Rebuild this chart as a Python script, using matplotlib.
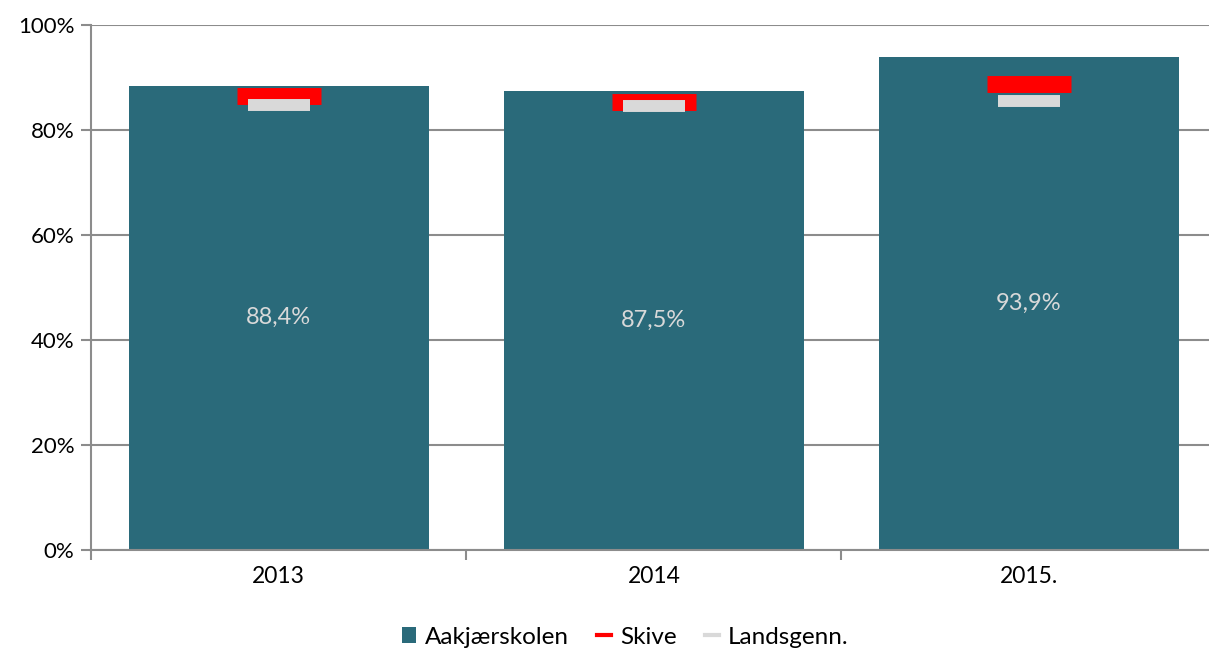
import matplotlib
matplotlib.use("Agg")
from matplotlib import pyplot as plt
from matplotlib.lines import Line2D
from matplotlib.patches import Patch
import numpy as np

plt.rcParams['font.family'] = ['Lato', 'DejaVu Sans']

years = ["2013", "2014", "2015."]
aakjaer = [88.4, 87.5, 93.9]
skive = [86.4, 85.4, 88.7]
landsgenn = [84.8, 84.6, 85.5]
value_labels = ["88,4%", "87,5%", "93,9%"]

bar_color = "#2a6a7a"
grid_color = "#8c8c8c"

fig = plt.figure(figsize=(12.09, 6.5), dpi=100)
ax = fig.add_axes([0.0753, 0.1546, 0.931, 0.8069])

x = np.arange(len(years))
ax.bar(x, aakjaer, width=0.8, color=bar_color, zorder=2)

ax.plot(x, skive, linestyle="none", marker="_", markersize=60, markeredgewidth=12.2,
        color="#ff0000", zorder=3)
ax.plot(x, landsgenn, linestyle="none", marker="_", markersize=44, markeredgewidth=8.6,
        color="#d9d9d9", zorder=4)

for xi, v, lab in zip(x, aakjaer, value_labels):
    ax.text(xi, v / 2, lab, ha="center", va="center", color="#d9d9d9", fontsize=17, zorder=5)

ax.set_xlim(-0.5, 2.5)
ax.set_ylim(0, 100)
ax.set_yticks(np.arange(0, 101, 20))
ax.set_yticklabels([f"{v}%" for v in range(0, 101, 20)], fontsize=16)
ax.yaxis.grid(True, color=grid_color, linewidth=1.5, zorder=0)
ax.set_axisbelow(True)

ax.set_xticks([-0.5, 0.5, 1.5, 2.5])
ax.set_xticklabels([])
ax.set_xticks(x, minor=True)
ax.set_xticklabels(years, minor=True, fontsize=16.5)
ax.tick_params(axis="x", which="minor", length=0, pad=12)
ax.tick_params(axis="x", which="major", length=7, color=grid_color, width=1.5)
ax.tick_params(axis="y", length=7, color=grid_color, width=1.5, pad=5)

for s in ["top", "right"]:
    ax.spines[s].set_visible(False)
ax.spines["left"].set_color(grid_color)
ax.spines["left"].set_linewidth(1.5)
ax.spines["bottom"].set_color(grid_color)
ax.spines["bottom"].set_linewidth(1.5)

handles = [
    Patch(facecolor=bar_color, label="Aakjærskolen"),
    Line2D([0], [0], color="#ff0000", linewidth=3, label="Skive"),
    Line2D([0], [0], color="#d9d9d9", linewidth=3, label="Landsgenn."),
]
fig.legend(handles=handles, loc="center", bbox_to_anchor=(0.517, 0.02), ncol=3,
           frameon=False, fontsize=17.5, handlelength=0.6, handleheight=0.6,
           handletextpad=0.35, columnspacing=1.15)

fig.savefig("out.png", dpi=100)
